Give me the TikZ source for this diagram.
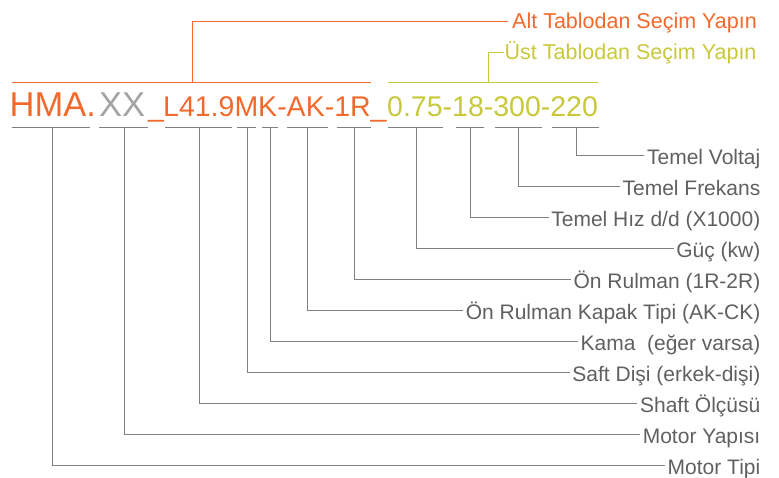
\documentclass[tikz,border=0pt]{standalone}
\usepackage{fontspec}
\setmainfont{Liberation Sans}
\usetikzlibrary{positioning}
\definecolor{hmaorange}{HTML}{F26A2B}
\definecolor{codegray}{HTML}{A3A3A3}
\definecolor{codeyellow}{HTML}{C8C83C}
\definecolor{linegray}{HTML}{808080}
\definecolor{textgray}{HTML}{606060}

\begin{document}
\begin{tikzpicture}[x=1pt,y=-1pt,
    lbl/.style={anchor=east,text=textgray,font=\fontsize{21}{25}\selectfont,
      text height=17pt,text depth=0pt,inner sep=2.5pt},
    codetxt/.style={anchor=base west,inner sep=0pt},
    bigcode/.style={codetxt,font=\fontsize{34.5}{40}\selectfont},
    smallcode/.style={codetxt,font=\fontsize{28.5}{34}\selectfont},
    tick/.style={linegray,line width=0.9pt}]
  \useasboundingbox (0,0) rectangle (779,477);

  % Code string
  \node[bigcode,text=hmaorange] (hma) at (9.5,116) {HMA.};
  \node[bigcode,text=codegray] (xx) at (99,116) {XX};
  \node[smallcode,text=hmaorange] (under) at (148,116) {\_};
  \node[smallcode,text=hmaorange] (lowcode) at (163,116) {L41.9MK-AK-1R\_};
  \node[smallcode,text=codeyellow] (upcode) at (387,116) {0.75-18-300-220};

  % Table brackets
  \node[anchor=west,text=hmaorange,font=\fontsize{21.5}{26}\selectfont,
    text height=15.4pt,text depth=0pt,inner sep=4pt] (alttab) at (508,21) {Alt Tablodan Seçim Yapın};
  \node[anchor=west,text=codeyellow,font=\fontsize{21.5}{26}\selectfont,
    text height=15.4pt,text depth=0pt,inner sep=0.5pt] (usttab) at (504,52) {Üst Tablodan Seçim Yapın};
  \coordinate (altfoot) at (192,82);
  \coordinate (ustfoot) at (488,82);
  \draw[hmaorange,line width=0.8pt] (12,82) -- (371,82);
  \draw[hmaorange,line width=0.8pt] (altfoot) |- (alttab);
  \draw[codeyellow,line width=0.8pt] (388,82) -- (598,82);
  \draw[codeyellow,line width=0.8pt] (ustfoot) |- (usttab);

  % Underlines
  \draw[tick] (12,127) -- (90,127) (99,127) -- (148,127)
    (165,127) -- (232,127) (237,127) -- (256,127) (262,127) -- (278,127)
    (287,127) -- (328,127) (337,127) -- (371,127)
    (388,127) -- (443,127) (456,127) -- (484,127) (495,127) -- (542,127)
    (552,127) -- (599,127);

  % Labels
  \node[lbl] (voltaj) at (763,155.5) {Temel Voltaj};
  \node[lbl] (frekans) at (763,186.5) {Temel Frekans};
  \node[lbl] (hiz) at (763,217.5) {Temel Hız d/d (X1000)};
  \node[lbl] (guc) at (763,248.5) {Güç (kw)};
  \node[lbl] (rulman) at (763,279.5) {Ön Rulman (1R-2R)};
  \node[lbl] (kapak) at (763,310.5) {Ön Rulman Kapak Tipi (AK-CK)};
  \node[lbl] (kama) at (763,341.5) {Kama\ \ (eğer varsa)};
  \node[lbl] (dis) at (763,372.5) {Saft Dişi (erkek-dişi)};
  \node[lbl] (olcu) at (763,403.5) {Shaft Ölçüsü};
  \node[lbl] (yapi) at (763,434.5) {Motor Yapısı};
  \node[lbl] (tip) at (763,465.5) {Motor Tipi};

  % Tick points
  \coordinate (tvoltaj) at (576,127);
  \coordinate (tfrekans) at (518,127);
  \coordinate (thiz) at (470,127);
  \coordinate (tguc) at (416,127);
  \coordinate (trulman) at (354,127);
  \coordinate (tkapak) at (307,127);
  \coordinate (tkama) at (270,127);
  \coordinate (tdis) at (247,127);
  \coordinate (tolcu) at (199,127);
  \coordinate (tyapi) at (124,127);
  \coordinate (ttip) at (52,127);

  % Connectors
  \draw[tick] (tvoltaj) |- (voltaj);
  \draw[tick] (tfrekans) |- (frekans);
  \draw[tick] (thiz) |- (hiz);
  \draw[tick] (tguc) |- (guc);
  \draw[tick] (trulman) |- (rulman);
  \draw[tick] (tkapak) |- (kapak);
  \draw[tick] (tkama) |- (kama);
  \draw[tick] (tdis) |- (dis);
  \draw[tick] (tolcu) |- (olcu);
  \draw[tick] (tyapi) |- (yapi);
  \draw[tick] (ttip) |- (tip);
\end{tikzpicture}
\end{document}
